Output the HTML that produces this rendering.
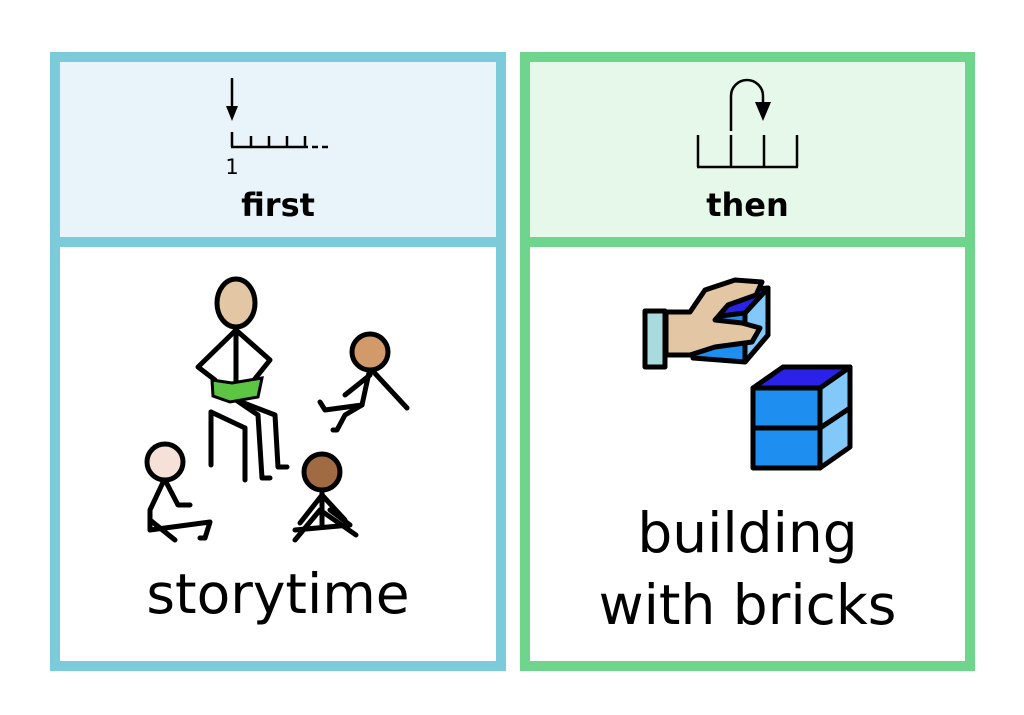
<!DOCTYPE html>
<html><head><meta charset="utf-8"><style>
html,body{margin:0;padding:0;background:#fff;width:1024px;height:715px;overflow:hidden}
.t{position:absolute;font-family:"DejaVu Sans","Liberation Sans",sans-serif;color:#000;text-align:center}
</style></head><body>
<svg width="1024" height="715" style="position:absolute;left:0;top:0">
<rect x="55" y="57" width="446" height="185" fill="#e8f4fa"/>
<rect x="55" y="57" width="446" height="609" fill="none" stroke="#7ccbda" stroke-width="10"/>
<line x1="55" y1="242" x2="501" y2="242" stroke="#7ccbda" stroke-width="10"/>
<rect x="525" y="57" width="445" height="185" fill="#e6f8ea"/>
<rect x="525" y="57" width="445" height="609" fill="none" stroke="#6fd58c" stroke-width="10"/>
<line x1="525" y1="242" x2="970" y2="242" stroke="#6fd58c" stroke-width="10"/>
<g stroke="#000" stroke-width="2.5" fill="none">
<line x1="232" y1="78" x2="232" y2="108"/>
<line x1="232" y1="132" x2="232" y2="147"/>
<line x1="231" y1="147" x2="308" y2="147"/>
<line x1="251" y1="136" x2="251" y2="147"/><line x1="269" y1="136" x2="269" y2="147"/>
<line x1="287" y1="136" x2="287" y2="147"/><line x1="305" y1="136" x2="305" y2="147"/>
<line x1="312" y1="147" x2="318" y2="147"/><line x1="322" y1="147" x2="328" y2="147"/>
</g>
<polygon points="226,106 238,106 232,121" fill="#000"/>
<text x="232" y="174" font-family="DejaVu Sans, sans-serif" font-size="21" text-anchor="middle">1</text>
<g stroke="#000" stroke-width="2.5" fill="none">
<line x1="697" y1="167" x2="798" y2="167"/>
<line x1="698" y1="135" x2="698" y2="167"/><line x1="731" y1="135" x2="731" y2="167"/>
<line x1="764" y1="135" x2="764" y2="167"/><line x1="797" y1="135" x2="797" y2="167"/>
<path d="M731,131 L731,96 A16,16 0 0 1 763,96 L763,104"/>
</g>
<polygon points="755,102 771,102 763,121" fill="#000"/>
<g stroke="#000" stroke-width="5" fill="none" stroke-linecap="round" stroke-linejoin="round">
<line x1="236" y1="326" x2="236" y2="400"/>
<path d="M236,330 L198,367 L215,380"/>
<path d="M236,330 L270,360 L250,385"/>
<path d="M236,400 L275,415 L278,467 L287,467"/>
<path d="M236,400 L258,415 L262,478 L270,478"/>
<line x1="211" y1="412" x2="211" y2="465"/>
<line x1="211" y1="412" x2="245" y2="428"/>
<line x1="245" y1="428" x2="245" y2="480"/>
<path d="M370,368 L362,405 L325,410 L320,402"/>
<path d="M362,405 L345,415 L337,430 L333,430"/>
<path d="M370,368 L407,408"/><path d="M370,375 L345,395"/>
<path d="M165,478 L150,510 L150,530"/>
<path d="M150,530 L210,522 L205,538 L200,538"/>
<path d="M165,480 L178,505 L190,505"/>
<path d="M150,520 L175,540"/>
<line x1="322" y1="485" x2="322" y2="525"/>
<path d="M322,495 L300,523"/><path d="M322,495 L345,520"/>
<path d="M295,530 L350,525 L330,510"/>
<path d="M295,540 L320,510 L356,535"/>
</g>
<g stroke="#000" stroke-width="5">
<ellipse cx="236" cy="303" rx="19" ry="24" fill="#e3c6a3"/>
<circle cx="370" cy="352" r="18" fill="#d29a6a"/>
<circle cx="165" cy="462" r="18" fill="#f6e1d8"/>
<circle cx="322" cy="472" r="18" fill="#a06a42"/>
</g>
<polygon points="212,380 232,383 262,378 258,397 230,402 213,396" fill="#5cc644" stroke="#000" stroke-width="3"/>
<g stroke="#000" stroke-width="5" stroke-linejoin="round">
<polygon points="753,388 820,388 820,468 753,468" fill="#1e8ff0"/>
<polygon points="820,388 850,367 850,447 820,468" fill="#82c8f8"/>
<polygon points="753,388 783,367 850,367 820,388" fill="#2a22e8"/>
<line x1="753" y1="428" x2="820" y2="428"/><line x1="820" y1="428" x2="850" y2="408"/>
<polygon points="693,310 740,302 768,288 768,335 745,362 693,358" fill="#1e8ff0"/>
<polygon points="745,313 768,288 768,335 745,362" fill="#82c8f8"/>
<polygon points="715,300 745,290 768,288 745,313 712,317" fill="#2a22e8"/>
<path d="M666,312 L690,312 L705,290 L735,280 L762,282 L756,295 L728,305 L715,320 L742,323 L760,328 L752,342 L715,347 L690,355 L666,355 Z" fill="#e3c6a3"/>
<rect x="645" y="311" width="20" height="56" fill="#a8dade"/>
</g>
</svg>
<div class="t" style="left:55px;top:186px;width:446px;font-size:32px;font-weight:bold">first</div>
<div class="t" style="left:525px;top:186px;width:445px;font-size:32px;font-weight:bold">then</div>
<div class="t" style="left:55px;top:562px;width:446px;font-size:55px">storytime</div>
<div class="t" style="left:525px;top:497px;width:445px;font-size:55px;line-height:72px">building<br>with bricks</div>
</body></html>
